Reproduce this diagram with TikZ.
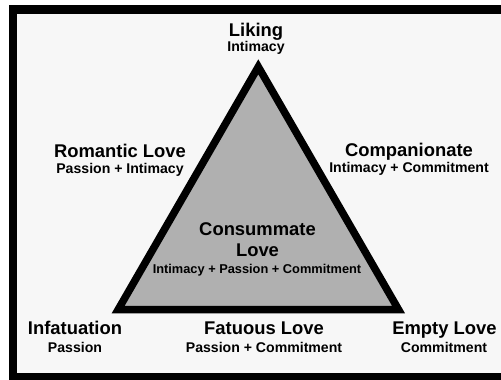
\documentclass[tikz,border=0pt]{standalone}
\usepackage{fontspec}
\setmainfont{Liberation Sans}
\definecolor{bgcol}{HTML}{F7F7F7}
\definecolor{tricol}{HTML}{B0B0B0}
\begin{document}
\begin{tikzpicture}[x=1pt,y=-1pt,
  ttl/.style={font=\bfseries\fontsize{18.4}{20}\selectfont, anchor=base, inner sep=0pt},
  sub/.style={font=\bfseries\fontsize{14.1}{16}\selectfont, anchor=base, inner sep=0pt},
  csub/.style={font=\bfseries\fontsize{12.8}{14}\selectfont, anchor=base, inner sep=0pt}]
\useasboundingbox (0,0) rectangle (501,380);
\fill[white] (0,0) rectangle (501,380);
\fill[black] (9,5) rectangle (501,380);
\fill[bgcol] (17,14) rectangle (501,372.5);
% triangle
\coordinate (A) at (258.3,66.8);
\coordinate (B) at (118.2,309.5);
\coordinate (C) at (398.5,309.5);
\draw[line width=7.5pt, line join=miter, fill=tricol] (A) -- (B) -- (C) -- cycle;
% labels
\node[ttl] (liking) at (256,36) {Liking};
\node[sub] (likingS) at (256,51) {Intimacy};
\node[ttl] (rom) at (120,157) {Romantic Love};
\node[sub] (romS) at (120,173) {Passion + Intimacy};
\node[ttl] (comp) at (409,156) {Companionate};
\node[sub] (compS) at (409,172) {Intimacy + Commitment};
\node[ttl] (cons1) at (257.5,235.7) {Consummate};
\node[ttl] (cons2) at (257.5,256) {Love};
\node[csub] (consS) at (257,273.3) {Intimacy + Passion + Commitment};
\node[ttl] (inf) at (75,334.3) {Infatuation};
\node[sub] (infS) at (75,352.7) {Passion};
\node[ttl] (fat) at (264,334.3) {Fatuous Love};
\node[sub] (fatS) at (264,352.7) {Passion + Commitment};
\node[ttl] (empty) at (444.5,334.3) {Empty Love};
\node[sub] (emptyS) at (444,352.7) {Commitment};
\end{tikzpicture}
\end{document}
